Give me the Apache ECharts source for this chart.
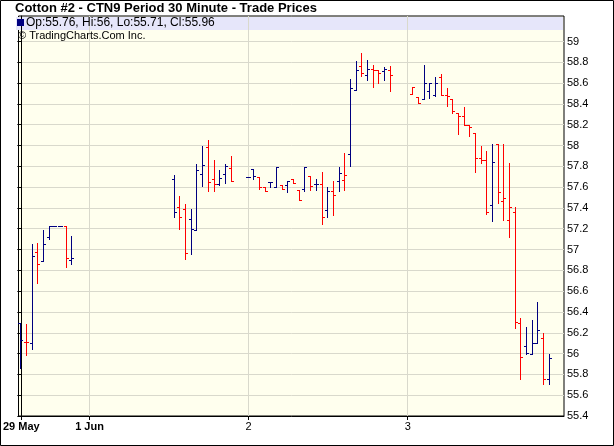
<!DOCTYPE html>
<html><head><meta charset="utf-8">
<script src="https://cdn.jsdelivr.net/npm/echarts@6/dist/echarts.min.js"></script>
<style>html,body{margin:0;padding:0;background:#fff}#c{width:614px;height:446px}</style>
</head><body><div id="c"></div>
<script>
// 30-minute slots (x position index), and OHLC values
const slots  = [0,1,2,3,4,5,6,7,8,9,
  27,28,29,30,31,32,33,34,35,36,37,
  40,41,42,43,44,45,46,47,48,49,50,51,52,53,54,55,56,57,58,59,60,61,62,63,64,65,
  69,70,71,72,73,74,75,76,77,78,79,80,81,82,83,84,85,86,87,88,89,90,91,92,93];
const opens  = [56.29,56.11,56.10,56.98,56.89,57.12,57.23,57.23,57.23,56.90,
  57.68,57.41,57.39,57.29,57.19,57.73,57.99,57.68,57.63,57.73,57.78,
  57.70,57.77,57.70,57.60,57.65,57.60,57.62,57.62,57.68,57.57,57.58,57.71,57.63,57.63,57.38,57.56,57.66,57.67,57.92,58.53,58.76,58.68,58.74,58.73,58.72,58.73,
  58.50,58.47,58.45,58.52,58.49,58.66,58.49,58.45,58.31,58.28,58.20,58.12,57.88,57.86,57.43,58.01,57.47,57.28,57.36,56.29,56.07,56.00,56.10,56.15,55.76];
const highs  = [56.29,56.28,57.05,57.06,57.19,57.23,57.23,57.23,57.23,57.13,
  57.72,57.51,57.44,57.39,57.82,58.00,58.05,57.86,57.76,57.82,57.90,
  57.70,57.77,57.70,57.60,57.65,57.79,57.62,57.66,57.68,57.57,57.79,57.71,57.68,57.75,57.60,57.66,57.79,57.93,58.64,58.81,58.89,58.82,58.77,58.73,58.75,58.76,
  58.56,58.47,58.77,58.60,58.66,58.69,58.55,58.45,58.31,58.37,58.20,58.12,58.00,57.95,58.01,58.01,58.01,57.83,57.41,56.34,56.26,56.32,56.50,56.20,56.00];
const lows   = [55.86,55.99,56.04,56.68,56.89,57.10,57.23,57.23,56.83,56.86,
  57.31,57.20,56.91,56.96,57.19,57.61,57.56,57.56,57.62,57.64,57.66,
  57.70,57.68,57.58,57.56,57.60,57.60,57.58,57.55,57.64,57.48,57.56,57.57,57.57,57.25,57.31,57.33,57.56,57.57,57.80,58.53,58.67,58.63,58.56,58.60,58.63,58.52,
  58.50,58.41,58.45,58.46,58.48,58.49,58.38,58.31,58.11,58.20,58.09,57.75,57.83,57.34,57.27,57.45,57.28,57.12,56.25,55.76,56.00,56.00,56.10,55.71,55.71];
const closes = [56.13,56.11,56.94,56.86,57.05,57.23,57.23,57.23,56.92,56.92,
  57.36,57.31,56.97,57.20,57.76,57.81,57.65,57.63,57.69,57.80,57.66,
  57.70,57.71,57.60,57.56,57.65,57.79,57.58,57.66,57.64,57.48,57.79,57.61,57.63,57.31,57.56,57.52,57.74,57.72,58.55,58.73,58.70,58.74,58.73,58.70,58.74,58.68,
  58.56,58.41,58.60,58.60,58.60,58.49,58.48,58.33,58.28,58.20,58.18,57.88,57.86,57.36,57.84,57.55,57.50,57.41,56.30,55.97,56.01,56.10,56.23,55.76,55.96];

const xTickSlots  = [0, 12, 40, 68];
const xTickLabels = ['29 May', '1 Jun', '2', '3'];
const xTickBold   = [true, true, false, false];
const yTicks = [55.4,55.6,55.8,56,56.2,56.4,56.6,56.8,57,57.2,57.4,57.6,57.8,58,58.2,58.4,58.6,58.8,59];

const titleText  = 'Cotton #2 - CTN9 Period 30 Minute - Trade Prices';
const legendText = 'Op:55.76, Hi:56, Lo:55.71, Cl:55.96';
const creditText = '\u00A9 TradingCharts.Com Inc.';

const FONT = '"Liberation Sans", Arial, sans-serif';
const UP = '#000080', DOWN = '#ff0000';

const data = slots.map((s, i) => [s, opens[i], highs[i], lows[i], closes[i],
  (i === 0 || closes[i] >= closes[i - 1]) ? 1 : -1]);

const chart = echarts.init(document.getElementById('c'), null, {renderer: 'canvas'});

function renderItem(params, api) {
  const s = api.value(0);
  const pO = api.coord([s, api.value(1)]);
  const pH = api.coord([s, api.value(2)]);
  const pL = api.coord([s, api.value(3)]);
  const pC = api.coord([s, api.value(4)]);
  const color = api.value(5) > 0 ? UP : DOWN;
  const x = Math.round(pO[0]) - 1;
  const yH = Math.round(pH[1]), yL = Math.round(pL[1]);
  const yO = Math.round(pO[1]), yC = Math.round(pC[1]);
  const st = {fill: color};
  return {type: 'group', children: [
    {type: 'rect', shape: {x: x, y: yH, width: 1, height: Math.max(1, yL - yH + 1)}, style: st},
    {type: 'rect', shape: {x: x - 2, y: yO, width: 2, height: 1}, style: st},
    {type: 'rect', shape: {x: x + 1, y: yC, width: 2, height: 1}, style: st}
  ]};
}

const option = {
  backgroundColor: '#ffffff',
  animation: false,
  grid: {left: 15, right: 50, top: 16, bottom: 30, show: true,
    backgroundColor: '#ffffee', borderColor: '#000', borderWidth: 1, z: 0},
  xAxis: {
    type: 'value', min: -0.5, max: 95.5, z: 2,
    axisLine: {show: true, onZero: false, lineStyle: {color: '#000', width: 1}},
    axisTick: {show: true, length: 4, lineStyle: {color: '#000'}, customValues: xTickSlots},
    axisLabel: {customValues: xTickSlots, margin: 5, color: '#000', fontSize: 11, fontFamily: FONT,
      formatter: v => {
        const i = xTickSlots.indexOf(Math.round(v));
        if (i < 0) return '';
        return xTickBold[i] ? '{b|' + xTickLabels[i] + '}' : xTickLabels[i];
      },
      rich: {b: {fontWeight: 'bold', fontSize: 11, fontFamily: FONT, color: '#000'}}
    },
    splitLine: {show: true, lineStyle: {color: '#d9d9cc', width: 1}}
  },
  yAxis: {
    type: 'value', position: 'right', min: 55.4, max: 59.245, z: 2,
    axisLine: {show: true, lineStyle: {color: '#000', width: 1}},
    axisTick: {show: true, inside: true, length: 4, lineStyle: {color: '#000'}, customValues: yTicks},
    axisLabel: {customValues: yTicks, margin: 3, color: '#000', fontSize: 11, fontFamily: FONT},
    splitLine: {show: true, lineStyle: {color: '#d9d9cc', width: 1}}
  },
  graphic: [
    {type: 'rect', z: 1, shape: {x: 16, y: 17, width: 547, height: 13}, style: {fill: '#e6e6fa'}},
    {type: 'rect', z: 5, shape: {x: 17, y: 19, width: 7, height: 7}, style: {fill: '#000080'}},
    {type: 'text', z: 5, x: 26, y: 23, style: {text: legendText, font: '12px ' + FONT, fill: '#000', verticalAlign: 'middle'}},
    {type: 'text', z: 5, x: 18, y: 36, style: {text: creditText, font: '11px ' + FONT, fill: '#000', verticalAlign: 'middle'}},
    {type: 'text', z: 5, x: 15, y: 8, style: {text: titleText, font: 'bold 13px ' + FONT, fill: '#000', verticalAlign: 'middle'}},
    {type: 'rect', z: 5, shape: {x: 0.5, y: 0.5, width: 613, height: 445}, style: {fill: 'none', stroke: '#000', lineWidth: 1}}
  ],
  series: [{
    type: 'custom', z: 3, renderItem: renderItem, clip: true,
    encode: {x: 0, y: [1, 2, 3, 4]},
    data: data
  }]
};
chart.setOption(option);
</script></body></html>
